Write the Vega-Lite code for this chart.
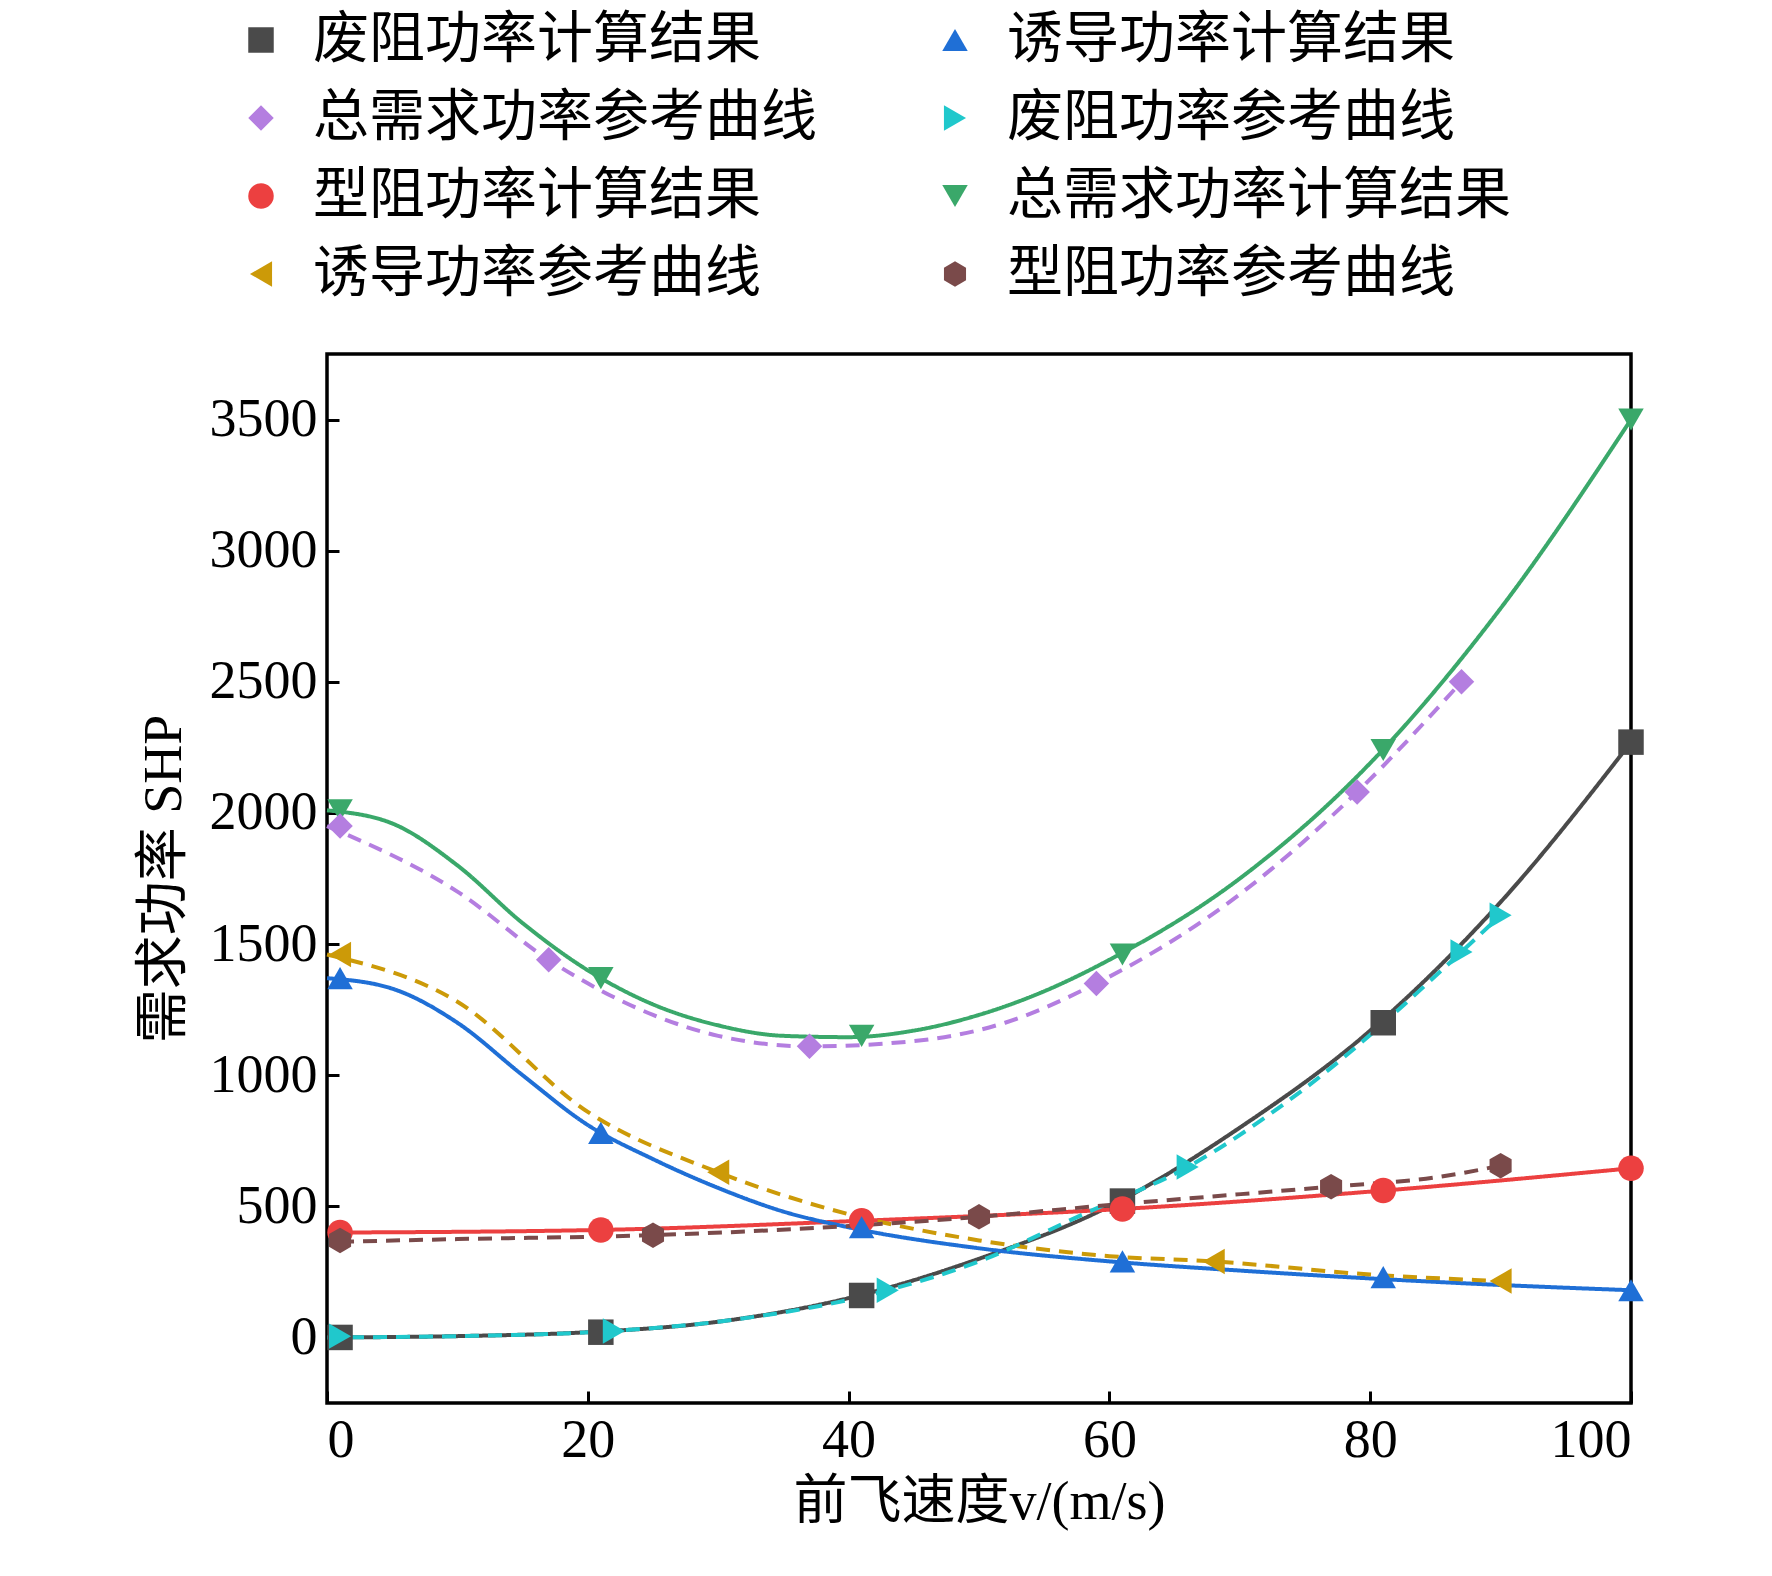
{
"$schema":"https://vega.github.io/schema/vega-lite/v6.json",
"autosize":{"type":"none"},
"padding":{"left":327,"top":354,"right":141,"bottom":173},
"width":1304,"height":1049,
"background":"white",
"config":{"font":"Liberation Serif, Noto Sans CJK SC","view":{"stroke":"black","strokeWidth":3.5},
"axis":{"domain":false,"grid":false,"tickColor":"black","tickWidth":3,"tickSize":-12,"labelFont":"Liberation Serif","labelFontSize":54,"labelColor":"black","titleFont":"Liberation Serif, Noto Sans CJK SC","titleFontSize":54,"titleFontWeight":"normal","titleColor":"black","labelPadding":22}},
"datasets":{
"curves":[
{"s":"废阻功率计算结果","t":"计算","x":0,"y":0},{"s":"废阻功率计算结果","t":"计算","x":10,"y":5},{"s":"废阻功率计算结果","t":"计算","x":20,"y":20},{"s":"废阻功率计算结果","t":"计算","x":30,"y":60},{"s":"废阻功率计算结果","t":"计算","x":40,"y":150},{"s":"废阻功率计算结果","t":"计算","x":50,"y":300},{"s":"废阻功率计算结果","t":"计算","x":60,"y":500},{"s":"废阻功率计算结果","t":"计算","x":70,"y":800},{"s":"废阻功率计算结果","t":"计算","x":80,"y":1170},{"s":"废阻功率计算结果","t":"计算","x":90,"y":1660},{"s":"废阻功率计算结果","t":"计算","x":100,"y":2270},
{"s":"型阻功率计算结果","t":"计算","x":1,"y":400},{"s":"型阻功率计算结果","t":"计算","x":21,"y":410},{"s":"型阻功率计算结果","t":"计算","x":41,"y":445},{"s":"型阻功率计算结果","t":"计算","x":61,"y":490},{"s":"型阻功率计算结果","t":"计算","x":81,"y":560},{"s":"型阻功率计算结果","t":"计算","x":100,"y":645},
{"s":"诱导功率计算结果","t":"计算","x":0,"y":1370},{"s":"诱导功率计算结果","t":"计算","x":5,"y":1330},{"s":"诱导功率计算结果","t":"计算","x":10,"y":1200},{"s":"诱导功率计算结果","t":"计算","x":15,"y":1000},{"s":"诱导功率计算结果","t":"计算","x":20,"y":810},{"s":"诱导功率计算结果","t":"计算","x":25,"y":680},{"s":"诱导功率计算结果","t":"计算","x":30,"y":570},{"s":"诱导功率计算结果","t":"计算","x":35,"y":480},{"s":"诱导功率计算结果","t":"计算","x":40,"y":420},{"s":"诱导功率计算结果","t":"计算","x":50,"y":340},{"s":"诱导功率计算结果","t":"计算","x":60,"y":290},{"s":"诱导功率计算结果","t":"计算","x":70,"y":255},{"s":"诱导功率计算结果","t":"计算","x":80,"y":225},{"s":"诱导功率计算结果","t":"计算","x":90,"y":200},{"s":"诱导功率计算结果","t":"计算","x":100,"y":180},
{"s":"总需求功率计算结果","t":"计算","x":0,"y":2010},{"s":"总需求功率计算结果","t":"计算","x":5,"y":1960},{"s":"总需求功率计算结果","t":"计算","x":10,"y":1800},{"s":"总需求功率计算结果","t":"计算","x":15,"y":1580},{"s":"总需求功率计算结果","t":"计算","x":20,"y":1400},{"s":"总需求功率计算结果","t":"计算","x":25,"y":1270},{"s":"总需求功率计算结果","t":"计算","x":30,"y":1190},{"s":"总需求功率计算结果","t":"计算","x":35,"y":1150},{"s":"总需求功率计算结果","t":"计算","x":40,"y":1145},{"s":"总需求功率计算结果","t":"计算","x":45,"y":1170},{"s":"总需求功率计算结果","t":"计算","x":50,"y":1230},{"s":"总需求功率计算结果","t":"计算","x":55,"y":1320},{"s":"总需求功率计算结果","t":"计算","x":60,"y":1440},{"s":"总需求功率计算结果","t":"计算","x":70,"y":1750},{"s":"总需求功率计算结果","t":"计算","x":80,"y":2190},{"s":"总需求功率计算结果","t":"计算","x":90,"y":2780},{"s":"总需求功率计算结果","t":"计算","x":100,"y":3500},
{"s":"总需求功率参考曲线","t":"参考","x":0,"y":1950},{"s":"总需求功率参考曲线","t":"参考","x":10,"y":1700},{"s":"总需求功率参考曲线","t":"参考","x":17,"y":1440},{"s":"总需求功率参考曲线","t":"参考","x":25,"y":1230},{"s":"总需求功率参考曲线","t":"参考","x":30,"y":1150},{"s":"总需求功率参考曲线","t":"参考","x":37,"y":1110},{"s":"总需求功率参考曲线","t":"参考","x":45,"y":1130},{"s":"总需求功率参考曲线","t":"参考","x":52,"y":1200},{"s":"总需求功率参考曲线","t":"参考","x":59,"y":1350},{"s":"总需求功率参考曲线","t":"参考","x":70,"y":1690},{"s":"总需求功率参考曲线","t":"参考","x":79,"y":2080},{"s":"总需求功率参考曲线","t":"参考","x":87,"y":2500},
{"s":"诱导功率参考曲线","t":"参考","x":0,"y":1460},{"s":"诱导功率参考曲线","t":"参考","x":10,"y":1280},{"s":"诱导功率参考曲线","t":"参考","x":20,"y":860},{"s":"诱导功率参考曲线","t":"参考","x":30,"y":630},{"s":"诱导功率参考曲线","t":"参考","x":40,"y":470},{"s":"诱导功率参考曲线","t":"参考","x":50,"y":370},{"s":"诱导功率参考曲线","t":"参考","x":60,"y":310},{"s":"诱导功率参考曲线","t":"参考","x":68,"y":290},{"s":"诱导功率参考曲线","t":"参考","x":80,"y":240},{"s":"诱导功率参考曲线","t":"参考","x":90,"y":215},
{"s":"废阻功率参考曲线","t":"参考","x":0,"y":0},{"s":"废阻功率参考曲线","t":"参考","x":10,"y":5},{"s":"废阻功率参考曲线","t":"参考","x":22,"y":25},{"s":"废阻功率参考曲线","t":"参考","x":30,"y":60},{"s":"废阻功率参考曲线","t":"参考","x":43,"y":180},{"s":"废阻功率参考曲线","t":"参考","x":50,"y":290},{"s":"废阻功率参考曲线","t":"参考","x":58,"y":470},{"s":"废阻功率参考曲线","t":"参考","x":66,"y":650},{"s":"废阻功率参考曲线","t":"参考","x":75,"y":950},{"s":"废阻功率参考曲线","t":"参考","x":87,"y":1470},{"s":"废阻功率参考曲线","t":"参考","x":90,"y":1610},
{"s":"型阻功率参考曲线","t":"参考","x":1,"y":365},{"s":"型阻功率参考曲线","t":"参考","x":10,"y":375},{"s":"型阻功率参考曲线","t":"参考","x":25,"y":390},{"s":"型阻功率参考曲线","t":"参考","x":40,"y":425},{"s":"型阻功率参考曲线","t":"参考","x":50,"y":460},{"s":"型阻功率参考曲线","t":"参考","x":60,"y":505},{"s":"型阻功率参考曲线","t":"参考","x":77,"y":575},{"s":"型阻功率参考曲线","t":"参考","x":85,"y":610},{"s":"型阻功率参考曲线","t":"参考","x":90,"y":655}
],
"markers":[
{"s":"废阻功率计算结果","x":1,"y":0},{"s":"废阻功率计算结果","x":21,"y":20},{"s":"废阻功率计算结果","x":41,"y":160},{"s":"废阻功率计算结果","x":61,"y":520},{"s":"废阻功率计算结果","x":81,"y":1200},{"s":"废阻功率计算结果","x":100,"y":2270},
{"s":"型阻功率计算结果","x":1,"y":400},{"s":"型阻功率计算结果","x":21,"y":410},{"s":"型阻功率计算结果","x":41,"y":445},{"s":"型阻功率计算结果","x":61,"y":490},{"s":"型阻功率计算结果","x":81,"y":560},{"s":"型阻功率计算结果","x":100,"y":645},
{"s":"诱导功率计算结果","x":1,"y":1370},{"s":"诱导功率计算结果","x":21,"y":780},{"s":"诱导功率计算结果","x":41,"y":420},{"s":"诱导功率计算结果","x":61,"y":290},{"s":"诱导功率计算结果","x":81,"y":230},{"s":"诱导功率计算结果","x":100,"y":180},
{"s":"总需求功率计算结果","x":1,"y":2010},{"s":"总需求功率计算结果","x":21,"y":1370},{"s":"总需求功率计算结果","x":41,"y":1150},{"s":"总需求功率计算结果","x":61,"y":1460},{"s":"总需求功率计算结果","x":81,"y":2240},{"s":"总需求功率计算结果","x":100,"y":3500},
{"s":"总需求功率参考曲线","x":1,"y":1950},{"s":"总需求功率参考曲线","x":17,"y":1440},{"s":"总需求功率参考曲线","x":37,"y":1110},{"s":"总需求功率参考曲线","x":59,"y":1350},{"s":"总需求功率参考曲线","x":79,"y":2080},{"s":"总需求功率参考曲线","x":87,"y":2500},
{"s":"诱导功率参考曲线","x":1,"y":1460},{"s":"诱导功率参考曲线","x":30,"y":630},{"s":"诱导功率参考曲线","x":68,"y":290},{"s":"诱导功率参考曲线","x":90,"y":215},
{"s":"废阻功率参考曲线","x":1,"y":5},{"s":"废阻功率参考曲线","x":22,"y":25},{"s":"废阻功率参考曲线","x":43,"y":180},{"s":"废阻功率参考曲线","x":66,"y":650},{"s":"废阻功率参考曲线","x":87,"y":1470},{"s":"废阻功率参考曲线","x":90,"y":1610},
{"s":"型阻功率参考曲线","x":1,"y":370},{"s":"型阻功率参考曲线","x":25,"y":390},{"s":"型阻功率参考曲线","x":50,"y":460},{"s":"型阻功率参考曲线","x":77,"y":575},{"s":"型阻功率参考曲线","x":90,"y":655}
]},
"layer":[
{"data":{"name":"curves"},"mark":{"type":"line","interpolate":"monotone","strokeWidth":4},
"encoding":{
"x":{"field":"x","type":"quantitative","scale":{"domain":[0,100],"nice":false},"axis":{"values":[0,20,40,60,80,100],"title":"前飞速度v/(m/s)","titlePadding":8}},
"y":{"field":"y","type":"quantitative","scale":{"domain":[-250,3750],"nice":false,"zero":false},"axis":{"values":[0,500,1000,1500,2000,2500,3000,3500],"format":"d","title":"需求功率 SHP","titlePadding":18}},
"color":{"field":"s","type":"nominal","scale":{"domain":["废阻功率计算结果","总需求功率参考曲线","型阻功率计算结果","诱导功率参考曲线","诱导功率计算结果","废阻功率参考曲线","总需求功率计算结果","型阻功率参考曲线"],"range":["#4a4a4a","#b47ee0","#ec4040","#cc9a08","#1f6fd6","#20c8cc","#3aa86a","#7a4a4a"]},
"legend":{"orient":"none","legendX":-94,"legendY":-342,"columns":2,"columnPadding":110,"rowPadding":22,"title":null,"labelFont":"Noto Sans CJK SC","labelFontSize":56,"labelColor":"black","symbolSize":650,"symbolStrokeWidth":0,"labelOffset":24,"labelLimit":700}},
"strokeDash":{"field":"t","type":"nominal","legend":null,"scale":{"domain":["计算","参考"],"range":[[1,0],[14,9]]}},
"detail":{"field":"s"}}},
{"data":{"name":"markers"},"mark":{"type":"point","filled":true,"opacity":1,"size":650},
"encoding":{
"x":{"field":"x","type":"quantitative"},
"y":{"field":"y","type":"quantitative"},
"color":{"field":"s","type":"nominal"},
"shape":{"field":"s","type":"nominal","scale":{"domain":["废阻功率计算结果","总需求功率参考曲线","型阻功率计算结果","诱导功率参考曲线","诱导功率计算结果","废阻功率参考曲线","总需求功率计算结果","型阻功率参考曲线"],"range":["square","diamond","circle","triangle-left","triangle-up","triangle-right","triangle-down","M0,-1L0.866,-0.5L0.866,0.5L0,1L-0.866,0.5L-0.866,-0.5Z"]}}}}
]
}
